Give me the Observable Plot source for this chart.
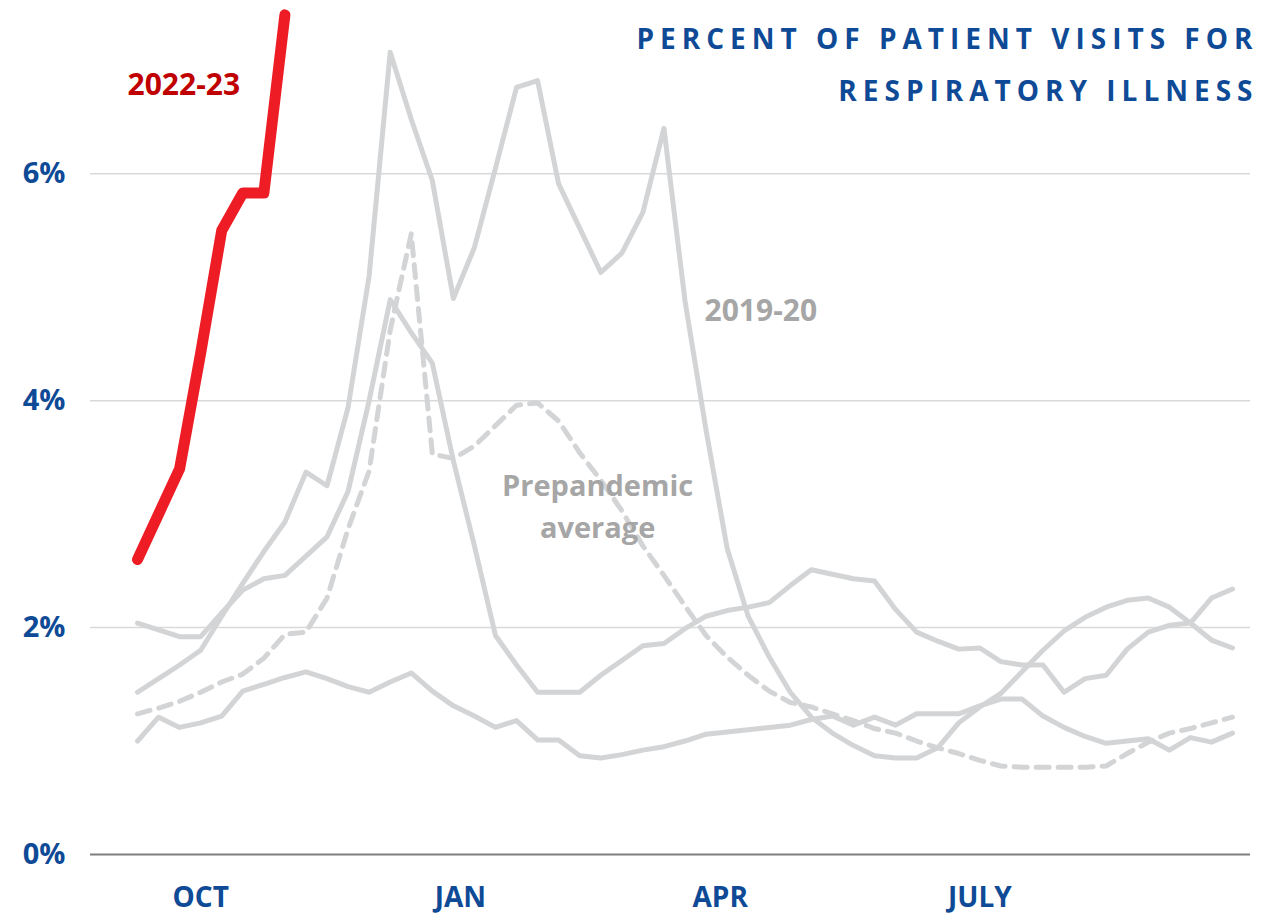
<!DOCTYPE html>
<html><head><meta charset="utf-8">
<script src="https://cdn.jsdelivr.net/npm/d3@7"></script>
<script src="https://cdn.jsdelivr.net/npm/@observablehq/plot@0.6"></script>
<style>
html,body{margin:0;padding:0;background:#fff;}
#chart svg{overflow:visible;display:block;}
</style>
</head><body><div id="chart"></div>
<script>
// Week index 0 = start of October season
const seasonA = [2.04,1.98,1.92,1.92,2.13,2.33,2.43,2.46,2.63,2.80,3.20,4.00,4.89,4.60,4.33,3.47,2.72,1.93,1.67,1.43,1.43,1.43,1.58,1.71,1.84,1.86,1.99,2.10,2.15,2.18,2.22,2.37,2.51,2.47,2.43,2.41,2.16,1.96,1.88,1.81,1.82,1.70,1.67,1.67,1.43,1.55,1.58,1.81,1.96,2.02,2.04,2.26,2.34];
const season2019 = [1.43,1.55,1.67,1.80,2.10,2.39,2.67,2.93,3.37,3.25,3.94,5.10,7.07,6.48,5.94,4.90,5.35,6.05,6.76,6.82,5.91,5.52,5.13,5.30,5.66,6.40,4.88,3.74,2.70,2.10,1.74,1.43,1.21,1.07,0.96,0.87,0.85,0.85,0.94,1.16,1.30,1.42,1.61,1.80,1.97,2.09,2.18,2.24,2.26,2.18,2.04,1.89,1.82];
const seasonC = [1.00,1.21,1.12,1.16,1.22,1.44,1.50,1.56,1.61,1.55,1.48,1.43,1.52,1.60,1.44,1.31,1.22,1.12,1.18,1.01,1.01,0.87,0.85,0.88,0.92,0.95,1.00,1.06,1.08,1.10,1.12,1.14,1.19,1.22,1.14,1.21,1.14,1.24,1.24,1.24,1.31,1.37,1.37,1.22,1.12,1.04,0.98,1.00,1.02,0.92,1.03,0.99,1.07];
const prepandemicAvg = [1.24,1.29,1.35,1.43,1.52,1.59,1.73,1.94,1.96,2.26,2.87,3.38,4.62,5.47,3.53,3.49,3.60,3.78,3.96,3.98,3.82,3.54,3.30,3.03,2.72,2.46,2.19,1.93,1.74,1.58,1.44,1.34,1.30,1.24,1.18,1.11,1.07,1.00,0.94,0.89,0.83,0.78,0.77,0.77,0.77,0.77,0.78,0.89,0.99,1.07,1.11,1.16,1.21];
const season2022 = [2.6,3.0,3.4,4.42,5.5,5.83,5.83,7.4];

const monthTickWeeks = [3, 15.33, 27.67, 40];
const monthTickLabels = ["OCT","JAN","APR","JULY"];
const yTicks = [0, 2, 4, 6];

const toRows = (arr) => arr.map((v, i) => ({week: i, value: v}));

const BLUE = "#0e4a96";
const GREY = "#d3d4d6";
const FONT = "'Open Sans', sans-serif";

const chart = Plot.plot({
  width: 1278,
  height: 914,
  marginLeft: 90,
  marginRight: 28,
  marginTop: 3,
  marginBottom: 60,
  insetLeft: 47,
  insetRight: 18,
  style: {fontFamily: FONT, background: "#fff"},
  x: {domain: [0, 52]},
  y: {domain: [0, 7.5]},
  marks: [
    Plot.ruleY([2, 4, 6], {stroke: "#d9d9d9", strokeWidth: 1.5}),
    Plot.ruleY([0], {stroke: "#7f7f7f", strokeWidth: 2}),
    Plot.axisY({ticks: yTicks, tickSize: 0, tickPadding: 25, tickFormat: d => d + "%",
      fontSize: 29, fontWeight: 700, fill: BLUE, label: null}),
    Plot.axisX({ticks: monthTickWeeks, tickSize: 0, tickPadding: 33,
      tickFormat: (d, i) => monthTickLabels[i], fontSize: 28, fontWeight: 700, fill: BLUE, label: null}),
    Plot.line(toRows(seasonC), {x: "week", y: "value", stroke: GREY, strokeWidth: 5, strokeLinejoin: "round"}),
    Plot.line(toRows(seasonA), {x: "week", y: "value", stroke: GREY, strokeWidth: 5, strokeLinejoin: "round"}),
    Plot.line(toRows(season2019), {x: "week", y: "value", stroke: GREY, strokeWidth: 5, strokeLinejoin: "round"}),
    Plot.line(toRows(prepandemicAvg), {x: "week", y: "value", stroke: GREY, strokeWidth: 5, strokeDasharray: "13,9"}),
    Plot.line(toRows(season2022), {x: "week", y: "value", stroke: "#ee1d25", strokeWidth: 11, strokeLinecap: "round", strokeLinejoin: "round"}),
    Plot.text(["2022-23"], {x: 2.2, y: 6.78, fill: "#c00000", fontSize: 30, fontWeight: 700, lineAnchor: "middle"}),
    Plot.text(["2019-20"], {x: 29.6, y: 4.79, fill: "#a6a6a6", fontSize: 30, fontWeight: 700, lineAnchor: "middle"}),
    Plot.text(["Prepandemic\naverage"], {x: 21.85, y: 3.09, fill: "#a6a6a6", fontSize: 29, fontWeight: 700, lineAnchor: "middle", lineHeight: 1.42}),
    Plot.text(["PERCENT OF PATIENT VISITS FOR"], {frameAnchor: "top-right", dy: 45, dx: 2, lineAnchor: "bottom", textAnchor: "end", fill: BLUE, fontSize: 28, fontWeight: 700}),
    Plot.text(["RESPIRATORY ILLNESS"], {frameAnchor: "top-right", dy: 97, dx: 2, lineAnchor: "bottom", textAnchor: "end", fill: BLUE, fontSize: 28, fontWeight: 700})
  ]
});
document.getElementById("chart").appendChild(chart);

// letter-spacing for the title lines
d3.select(chart).selectAll("text").filter(function() {
  const t = this.textContent;
  return t === "PERCENT OF PATIENT VISITS FOR" || t === "RESPIRATORY ILLNESS";
}).attr("letter-spacing", "6px").attr("dx", "6");
</script>
</body></html>
